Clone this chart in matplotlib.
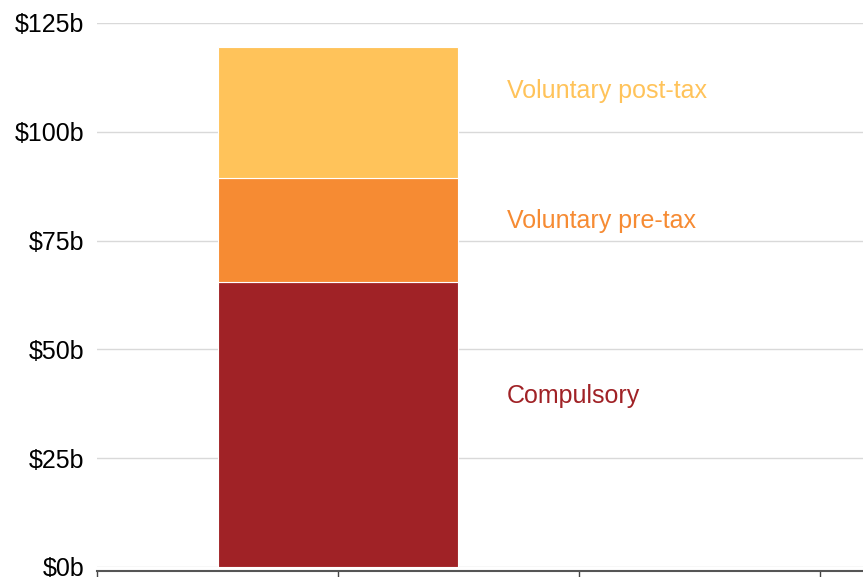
import matplotlib
matplotlib.use("Agg")
import matplotlib.pyplot as plt

plt.rcParams['font.family'] = ['Liberation Sans', 'DejaVu Sans']

# super contributions, $b
segments = ["Compulsory", "Voluntary pre-tax", "Voluntary post-tax"]
values = [65.5, 23.9, 30.1]
colours = ["#A02226", "#F68B33", "#FFC35A"]
label_y = [39.2, 79.4, 109.3]
y_ticks = [0, 25, 50, 75, 100, 125]
y_tick_labels = ["$0b", "$25b", "$50b", "$75b", "$100b", "$125b"]

fig = plt.figure(figsize=(8.63, 5.77), dpi=100)
ax = fig.add_axes([97 / 863, 1 - 567 / 577, 1 - 97 / 863, (567 - 23) / 577])

bottom = 0
for name, val, col in zip(segments, values, colours):
    ax.bar(1, val, width=0.996, bottom=bottom, color=col,
           edgecolor="white", linewidth=0.8, zorder=3)
    bottom += val

for name, y, col in zip(segments, label_y, colours):
    ax.text(1.70, y, name, color=col, fontsize=18, va="center", ha="left")

ax.set_xlim(0, 766 / 241)
ax.set_ylim(0, 125)
ax.set_yticks(y_ticks)
ax.set_yticklabels(y_tick_labels)
ax.set_xticks([0, 1, 2, 3])
ax.set_xticklabels([])

ax.grid(axis="y", color="#d9d9d9", linewidth=1.0, zorder=0)
ax.tick_params(axis="y", length=0, pad=9, labelsize=18, colors="black")
ax.tick_params(axis="x", length=8, width=1, color="#444444")

for side in ["top", "right", "left"]:
    ax.spines[side].set_visible(False)
ax.spines["bottom"].set_position(("outward", 3))
ax.spines["bottom"].set_color("#555555")
ax.spines["bottom"].set_linewidth(1.5)

fig.savefig("out.png", dpi=100)
